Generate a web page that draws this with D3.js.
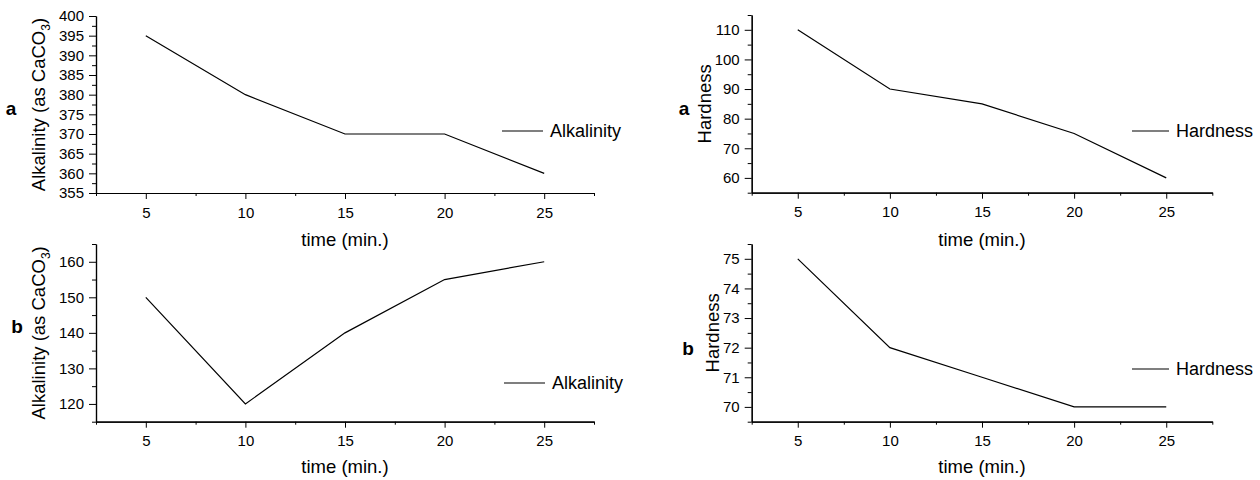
<!DOCTYPE html>
<html>
<head>
<meta charset="utf-8">
<script src="https://cdn.jsdelivr.net/npm/d3@7"></script>
<style>
  body { margin: 0; background: #fff; }
  svg { display: block; }
  text { font-family: "Liberation Sans", Arial, sans-serif; fill: #000; }
</style>
</head>
<body>
<div id="chart"></div>
<script>
/* Alkalinity / hardness vs time, four panels */

const times = [5, 10, 15, 20, 25];
const alkalinityA = [395, 380, 370, 370, 360];
const alkalinityB = [150, 120, 140, 155, 160];
const hardnessA = [110, 90, 85, 75, 60];
const hardnessB = [75, 72, 71, 70, 70];

const xDomain = [2.5, 27.5];
const xMajor = [5, 10, 15, 20, 25];
const xMinor = [2.5, 7.5, 12.5, 17.5, 22.5, 27.5];

const alkAMajor = [355, 360, 365, 370, 375, 380, 385, 390, 395, 400];
const alkAMinor = [357.5, 362.5, 367.5, 372.5, 377.5, 382.5, 387.5, 392.5, 397.5];
const alkBMajor = [120, 130, 140, 150, 160];
const alkBMinor = [115, 125, 135, 145, 155, 165];
const hardAMajor = [60, 70, 80, 90, 100, 110];
const hardAMinor = [55, 65, 75, 85, 95, 105, 115];
const hardBMajor = [70, 71, 72, 73, 74, 75];
const hardBMinor = [69.5, 70.5, 71.5, 72.5, 73.5, 74.5, 75.5];

const svg = d3.select("#chart")
  .append("svg")
  .attr("width", 1260)
  .attr("height", 480);

function styleAxis(sel) {
  sel.select(".domain").attr("stroke", "#000").attr("stroke-width", 1.2);
  sel.selectAll(".tick line").attr("stroke", "#000").attr("stroke-width", 1);
  sel.selectAll(".tick text").attr("font-size", 15).attr("fill", "#000")
    .attr("font-family", "'Liberation Sans', Arial, sans-serif");
}

function drawPanel(p) {
  const x = d3.scaleLinear().domain(xDomain).range([p.left, p.right]);
  const y = d3.scaleLinear().domain(p.yDomain).range([p.bottom, p.top]);
  const g = svg.append("g");

  // x axis: minor then major
  g.append("g")
    .attr("transform", `translate(0,${p.bottom})`)
    .call(d3.axisBottom(x).tickValues(xMinor).tickSize(3).tickSizeOuter(0).tickFormat(""))
    .call(styleAxis);
  g.append("g")
    .attr("transform", `translate(0,${p.bottom})`)
    .call(d3.axisBottom(x).tickValues(xMajor).tickSize(6).tickSizeOuter(0).tickPadding(8).tickFormat(d3.format("d")))
    .call(styleAxis);

  // y axis
  g.append("g")
    .attr("transform", `translate(${p.left},0)`)
    .call(d3.axisLeft(y).tickValues(p.yMinor).tickSize(4).tickSizeOuter(0).tickFormat(""))
    .call(styleAxis);
  g.append("g")
    .attr("transform", `translate(${p.left},0)`)
    .call(d3.axisLeft(y).tickValues(p.yMajor).tickSize(7).tickSizeOuter(0).tickPadding(5).tickFormat(d3.format("d")))
    .call(styleAxis);

  // data line
  const line = d3.line()
    .x((d, i) => x(times[i]))
    .y(d => y(d));
  g.append("path")
    .datum(p.values)
    .attr("fill", "none")
    .attr("stroke", "#000")
    .attr("stroke-width", 1.2)
    .attr("d", line);

  // axis titles
  g.append("text")
    .attr("x", (p.left + p.right) / 2)
    .attr("y", p.xTitleY)
    .attr("text-anchor", "middle")
    .attr("font-size", 18.5)
    .text("time (min.)");

  const yt = g.append("text")
    .attr("transform", `translate(${p.yTitleX},${(p.top + p.bottom) / 2}) rotate(-90)`)
    .attr("text-anchor", "middle")
    .attr("font-size", 18.5);
  yt.append("tspan").text(p.yTitle);
  if (p.sub) {
    yt.append("tspan").attr("font-size", 12).attr("dy", 5).text(p.sub);
    yt.append("tspan").attr("dy", -5).text(")");
  }

  // panel letter
  g.append("text")
    .attr("x", p.letterX)
    .attr("y", p.letterY)
    .attr("text-anchor", "middle")
    .attr("font-size", 19)
    .attr("font-weight", "bold")
    .text(p.letter);

  // legend
  g.append("line")
    .attr("x1", p.legX1).attr("x2", p.legX2)
    .attr("y1", p.legY).attr("y2", p.legY)
    .attr("stroke", "#000")
    .attr("stroke-width", 1.2);
  g.append("text")
    .attr("x", p.legX2 + 7)
    .attr("y", p.legY)
    .attr("dy", "0.35em")
    .attr("font-size", 18)
    .text(p.legend);
}

drawPanel({
  left: 96, right: 594, top: 16, bottom: 193,
  yDomain: [355, 400], yMajor: alkAMajor, yMinor: alkAMinor,
  values: alkalinityA,
  yTitle: "Alkalinity (as CaCO", sub: "3", yTitleX: 45,
  xTitleY: 246, letter: "a", letterX: 11, letterY: 115,
  legX1: 502, legX2: 543, legY: 131, legend: "Alkalinity"
});

drawPanel({
  left: 96, right: 594, top: 244, bottom: 421.7,
  yDomain: [115, 165], yMajor: alkBMajor, yMinor: alkBMinor,
  values: alkalinityB,
  yTitle: "Alkalinity (as CaCO", sub: "3", yTitleX: 45,
  xTitleY: 473, letter: "b", letterX: 17, letterY: 333,
  legX1: 504, legX2: 545, legY: 383, legend: "Alkalinity"
});

drawPanel({
  left: 751.7, right: 1212.3, top: 15, bottom: 192.7,
  yDomain: [55, 115], yMajor: hardAMajor, yMinor: hardAMinor,
  values: hardnessA,
  yTitle: "Hardness", yTitleX: 711,
  xTitleY: 246, letter: "a", letterX: 684, letterY: 115,
  legX1: 1132, legX2: 1169, legY: 131, legend: "Hardness"
});

drawPanel({
  left: 751.7, right: 1212.3, top: 244, bottom: 421.7,
  yDomain: [69.5, 75.5], yMajor: hardBMajor, yMinor: hardBMinor,
  values: hardnessB,
  yTitle: "Hardness", yTitleX: 719,
  xTitleY: 473, letter: "b", letterX: 688, letterY: 355,
  legX1: 1132, legX2: 1169, legY: 369, legend: "Hardness"
});
</script>
</body>
</html>
